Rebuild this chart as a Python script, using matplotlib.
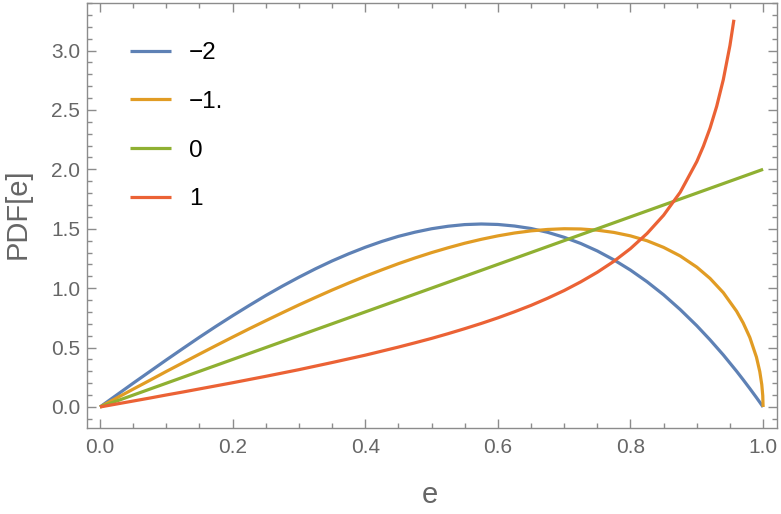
import matplotlib as mpl
mpl.use('Agg')
import matplotlib.pyplot as plt
from matplotlib.ticker import MultipleLocator

# values
e_grid = [0.0, 0.025, 0.05, 0.075, 0.1, 0.125, 0.15, 0.175, 0.2, 0.225, 0.25,
          0.275, 0.3, 0.325, 0.35, 0.375, 0.4, 0.425, 0.45, 0.475, 0.5,
          0.525, 0.55, 0.575, 0.6, 0.625, 0.65, 0.675, 0.7, 0.725, 0.75,
          0.775, 0.8, 0.825, 0.85, 0.875, 0.9, 0.92, 0.94, 0.96, 0.97,
          0.98, 0.99, 0.995, 0.998, 0.9995, 1.0]
pdf_m2 = [0.0, 0.100, 0.200, 0.298, 0.396, 0.492, 0.587, 0.679, 0.768, 0.854, 0.938,
          1.017, 1.092, 1.163, 1.229, 1.289, 1.344, 1.393, 1.436, 1.471, 1.500,
          1.521, 1.535, 1.540, 1.536, 1.523, 1.502, 1.470, 1.428, 1.376, 1.313,
          1.238, 1.152, 1.054, 0.944, 0.820, 0.684, 0.565, 0.438, 0.301, 0.229,
          0.155, 0.079, 0.040, 0.016, 0.004, 0.0]
pdf_m1 = [0.0, 0.075, 0.150, 0.224, 0.299, 0.372, 0.445, 0.517, 0.588, 0.658, 0.726,
          0.793, 0.859, 0.922, 0.984, 1.043, 1.100, 1.154, 1.206, 1.254, 1.299,
          1.340, 1.378, 1.411, 1.440, 1.464, 1.482, 1.494, 1.500, 1.498, 1.488,
          1.469, 1.440, 1.399, 1.343, 1.271, 1.177, 1.082, 0.962, 0.806, 0.707,
          0.585, 0.419, 0.298, 0.189, 0.095, 0.0]
e_zero = [0.0, 1.0]
pdf_0 = [0.0, 2.0]
e_one = [0.0, 0.025, 0.05, 0.075, 0.1, 0.125, 0.15, 0.175, 0.2, 0.225, 0.25,
         0.275, 0.3, 0.325, 0.35, 0.375, 0.4, 0.425, 0.45, 0.475, 0.5,
         0.525, 0.55, 0.575, 0.6, 0.625, 0.65, 0.675, 0.7, 0.725, 0.75,
         0.775, 0.8, 0.825, 0.85, 0.875, 0.9, 0.91, 0.92, 0.93, 0.94,
         0.95, 0.956]
pdf_1 = [0.0, 0.025, 0.050, 0.075, 0.101, 0.126, 0.152, 0.178, 0.204, 0.231, 0.258,
         0.286, 0.314, 0.344, 0.374, 0.405, 0.436, 0.470, 0.504, 0.540, 0.577,
         0.617, 0.659, 0.703, 0.750, 0.801, 0.855, 0.915, 0.980, 1.053, 1.134,
         1.226, 1.333, 1.460, 1.614, 1.807, 2.065, 2.195, 2.347, 2.530, 2.755,
         3.042, 3.259]
labels = ['\u22122', '\u22121.', '0', '1']
colors = ['#5E81B5', '#E19C24', '#8FB032', '#EB6235']

plt.rcParams['font.family'] = ['Liberation Sans', 'DejaVu Sans']
grey = '#666666'
frame = '#8c8c8c'

fig = plt.figure(figsize=(7.81, 5.14), dpi=100)
ax = fig.add_axes([0.1114, 0.1673, 0.8835, 0.8269])

series = [(e_grid, pdf_m2), (e_grid, pdf_m1), (e_zero, pdf_0), (e_one, pdf_1)]
for (x, y), lab, c in zip(series, labels, colors):
    ax.plot(x, y, color=c, lw=2.3, label=lab, solid_capstyle='butt')

ax.set_xlim(-0.0196, 1.021)
ax.set_ylim(-0.177, 3.40)
ax.xaxis.set_major_locator(MultipleLocator(0.2))
ax.xaxis.set_minor_locator(MultipleLocator(0.05))
ax.yaxis.set_major_locator(MultipleLocator(0.5))
ax.yaxis.set_minor_locator(MultipleLocator(0.1))
ax.xaxis.set_major_formatter(mpl.ticker.FormatStrFormatter('%.1f'))
ax.yaxis.set_major_formatter(mpl.ticker.FormatStrFormatter('%.1f'))
ax.tick_params(which='both', direction='in', top=True, right=True,
               color=frame, width=1.0, labelcolor=grey, labelsize=15)
ax.tick_params(which='major', length=6.5)
ax.tick_params(which='minor', length=3.6)
ax.tick_params(axis='x', which='major', pad=7)
ax.tick_params(axis='y', which='major', pad=5)
for s in ax.spines.values():
    s.set_color(frame)
    s.set_linewidth(1.0)

fig.text(0.022, 0.585, 'PDF[e]', rotation=90, ha='center', va='center',
         fontsize=21, color=grey)
fig.text(0.551, 0.037, 'e', ha='center', va='center', fontsize=21, color=grey)

ax.legend(loc='upper left', bbox_to_anchor=(0.166, 0.918), bbox_transform=fig.transFigure,
          frameon=False, fontsize=17.5, handlelength=1.7, handletextpad=0.75,
          labelspacing=1.1, borderpad=0, borderaxespad=0)

fig.savefig('out.png', dpi=100)
